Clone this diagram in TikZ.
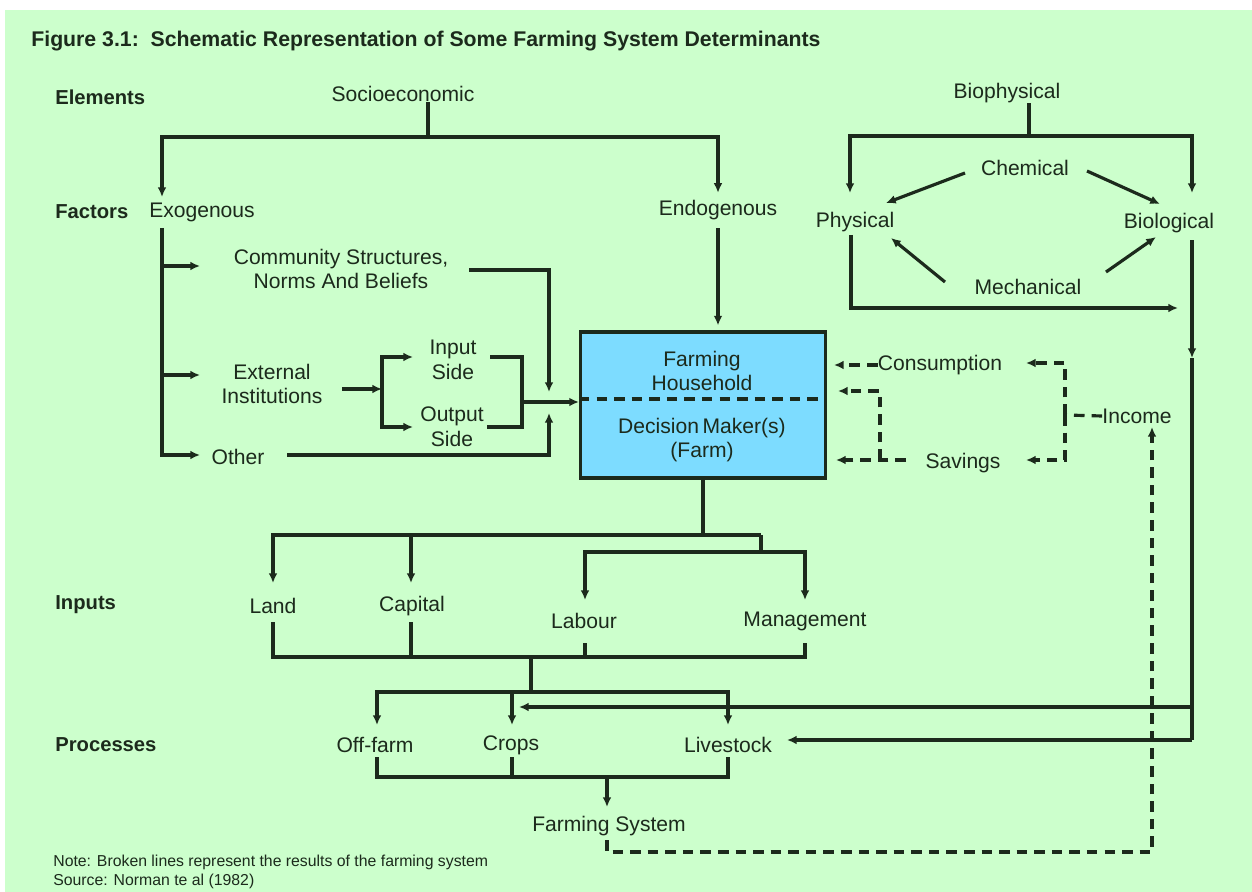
\documentclass[tikz,border=0pt]{standalone}
\usepackage{fontspec}
\setmainfont{Liberation Sans}
\usepackage{tikz}
\usetikzlibrary{arrows.meta}
\definecolor{bggreen}{RGB}{204,255,204}
\definecolor{hhblue}{RGB}{125,220,255}
\definecolor{ink}{RGB}{28,42,28}
\tikzset{
	lbl/.style={font=\fontsize{12}{14}\selectfont, text=ink, align=center, inner sep=0pt},
	rowlbl/.style={font=\bfseries\fontsize{11.5}{14}\selectfont, text=ink, anchor=west, inner sep=0pt},
	ln/.style={draw=ink, line width=1.8pt},
	arr/.style={ln, -{Latex[length=5.5pt,width=5pt]}},
	dsh/.style={ln, dash pattern=on 6pt off 4pt},
	darr/.style={dsh, -{Latex[length=5.5pt,width=5pt]}},
	hhbox/.style={draw=ink, line width=1.8pt, fill=hhblue, minimum width=4.9cm, minimum height=2.92cm, inner sep=0pt}
}

\begin{document}
\begin{tikzpicture}[x=0.02cm, y=-0.02cm]
			%%%%% START %%%%%
			
			\useasboundingbox (0,0) rectangle (1252,892);
			\fill[white] (0,0) rectangle (1252,892);
			\fill[bggreen] (5,10) rectangle (1252,892);
			
			\node[anchor=west, font=\bfseries\fontsize{12.1}{14}\selectfont, text=ink, inner sep=0pt] (title) at (31,41) {Figure 3.1:\ \ Schematic Representation of Some Farming System Determinants};
			
			\node[rowlbl] (elements) at (55,97) {Elements};
			\node[rowlbl] (factors) at (55,212) {Factors};
			\node[rowlbl] (inputs) at (55,605) {Inputs};
			\node[rowlbl] (processes) at (55,745) {Processes};
			
			\node[lbl] (socio) at (403,94) {Socioeconomic};
			\node[lbl] (bio) at (1007,93) {Biophysical};
			\node[lbl] (exo) at (202,212) {Exogenous};
			\node[lbl] (endo) at (718,210) {Endogenous};
			
			\node[lbl] (chem) at (1025,168) {Chemical};
			\node[lbl] (phys) at (855,222) {Physical};
			\node[lbl] (biol) at (1169,223) {Biological};
			\node[lbl] (mech) at (1028,287) {Mechanical};
			
			\node[lbl] (comm) at (341,269) {Community Structures,\\Norms And Beliefs};
			\node[lbl] (ext) at (272,384) {External\\Institutions};
			\node[lbl] (inp) at (453,360) {Input\\Side};
			\node[lbl] (outp) at (452,427) {Output\\Side};
			\node[lbl] (other) at (238,457) {Other};
			
			\node[hhbox] (hh) at (703,405) {};
			\node[lbl] (hhtop) at (702,371) {Farming\\Household};
			\node[lbl] (hhbot) at (702,440) {Decision\,Maker(s)\\(Farm)};
			
			\node[lbl] (cons) at (940,365) {Consumption};
			\node[lbl] (sav) at (963,463) {Savings};
			\node[lbl] (inc) at (1137,416) {Income};
			
			\node[lbl] (land) at (273,606) {Land};
			\node[lbl] (cap) at (412,606) {Capital};
			\node[lbl] (lab) at (584,621) {Labour};
			\node[lbl] (man) at (805,621) {Management};
			
			\node[lbl] (off) at (375,745) {Off-farm};
			\node[lbl] (crops) at (511,745) {Crops};
			\node[lbl] (live) at (728,745) {Livestock};
			
			\node[lbl] (fs) at (609,826) {Farming System};
			
			\node[anchor=west, font=\fontsize{9}{11}\selectfont, text=ink, inner sep=0pt] (note) at (53,862) {Note: Broken lines represent the results of the farming system};
			\node[anchor=west, font=\fontsize{9}{11}\selectfont, text=ink, inner sep=0pt] (source) at (53,881) {Source: Norman te al (1982)};
			
			% socioeconomic branch
			\coordinate (sj) at (428,137);
			\coordinate (exoin) at (162,197);
			\draw[ln] (sj|-socio.south) -- (sj);
			\draw[arr] (sj) -| (exoin);
			\draw[arr] (sj) -| ([yshift=0.14cm]endo.north);
			\draw[arr] ([yshift=-0.16cm]endo.south) -- ([yshift=0.1cm]endo|-hh.north);
			
			% exogenous factors
			\coordinate (exo0) at (162,228);
			\coordinate (commin) at (200,266);
			\coordinate (extin) at (200,375);
			\coordinate (othin) at (200,455);
			\draw[arr] (exo0) |- (othin);
			\draw[arr] (exo0|-commin) -- (commin);
			\draw[arr] (exo0|-extin) -- (extin);
			
			\coordinate (extout) at (342,389);
			\coordinate (bl) at (382,389);
			\coordinate (inpin) at (413,357);
			\coordinate (outin) at (413,427);
			\draw[arr] (extout) -- (bl);
			\draw[arr] (bl) |- (inpin);
			\draw[arr] (bl) |- (outin);
			
			\coordinate (inpout) at (490,357);
			\coordinate (outout) at (487,427);
			\coordinate (br) at (522,402);
			\draw[ln] (inpout) -| (br);
			\draw[ln] (outout) -| (br);
			\draw[arr] (br) -- (br-|hh.west);
			
			\coordinate (commout) at (469,270);
			\coordinate (hhin1) at (549,392);
			\coordinate (othout) at (287,455);
			\coordinate (hhin2) at (549,413);
			\draw[arr] (commout) -| (hhin1);
			\draw[arr] (othout) -| (hhin2);
			
			\coordinate (mid) at (700,399);
			\draw[dsh] (hh.west|-mid) -- (hh.east|-mid);
			
			% biophysical branch
			\coordinate (bj) at (1029,136);
			\coordinate (physin) at (850,193);
			\coordinate (biolin) at (1192,193);
			\draw[ln] (bj|-bio.south) -- (bj);
			\draw[arr] (bj) -| (physin);
			\draw[arr] (bj) -| (biolin);
			
			\coordinate (c1s) at (965,173);
			\coordinate (c1e) at (886,203);
			\coordinate (c2s) at (1087,171);
			\coordinate (c2e) at (1160,204);
			\coordinate (m1s) at (945,282);
			\coordinate (m1e) at (891,238);
			\coordinate (m2s) at (1106,272);
			\coordinate (m2e) at (1156,237);
			\draw[arr] (c1s) -- (c1e);
			\draw[arr] (c2s) -- (c2e);
			\draw[arr] (m1s) -- (m1e);
			\draw[arr] (m2s) -- (m2e);
			
			\coordinate (p0) at (851,235);
			\coordinate (p1) at (1178,308);
			\draw[arr] (p0) |- (p1);
			
			\coordinate (r0) at (1192,240);
			\coordinate (rm) at (1192,358);
			\coordinate (r1) at (1192,707);
			\coordinate (r2) at (1192,740);
			\coordinate (cropin) at (519,707);
			\coordinate (livin) at (787,740);
			\draw[arr] (r0) -- (rm);
			\draw[ln] (rm) -- (r2);
			\draw[arr] (r1) -- (cropin);
			\draw[arr] (r2) -- (livin);
			
			% results of the farming system
			\coordinate (consin) at (834,365);
			\coordinate (hhup) at (838,391);
			\coordinate (savout) at (906,460);
			\coordinate (savin) at (836,460);
			\coordinate (sj1) at (880,391);
			\coordinate (sj2) at (880,460);
			\draw[darr] (cons.west) -- (consin);
			\draw[darr] (savout) -- (savin);
			\draw[darr] (sj2) -- (sj1) -- (hhup);
			
			\coordinate (ij) at (1065,415);
			\coordinate (ic) at (1065,363);
			\coordinate (is) at (1065,460);
			\coordinate (consr) at (1026,363);
			\coordinate (savr) at (1026,460);
			\draw[dsh] (inc.west) -- (ij);
			\draw[darr] (ij) -- (ic) -- (consr);
			\draw[darr] (ij) -- (is) -- (savr);
			
			\coordinate (fs0) at (607,840);
			\coordinate (fs1) at (1152,852);
			\coordinate (incin) at (1152,427);
			\draw[darr] (fs0) |- (fs1) -- (incin);
			
			% inputs
			\coordinate (t0) at (703,535);
			\coordinate (tl) at (273,535);
			\coordinate (tr) at (761,535);
			\coordinate (landin) at (273,583);
			\coordinate (capin) at (411,583);
			\draw[ln] (hh.south) -- (t0);
			\draw[arr] (tr) -- (tl) -- (landin);
			\draw[arr] (capin|-tl) -- (capin);
			
			\coordinate (t2) at (761,552);
			\coordinate (labin) at (585,600);
			\coordinate (manin) at (805,600);
			\draw[ln] (tr) -- (t2);
			\draw[arr] (t2) -| (labin);
			\draw[arr] (t2) -| (manin);
			
			\coordinate (lo) at (273,622);
			\coordinate (co) at (411,622);
			\coordinate (lbo) at (585,643);
			\coordinate (mo) at (805,643);
			\coordinate (b0) at (531,657);
			\draw[ln] (lo) |- (mo|-b0) -- (mo);
			\draw[ln] (co) -- (co|-b0);
			\draw[ln] (lbo) -- (lbo|-b0);
			
			% processes
			\coordinate (q0) at (531,692);
			\coordinate (offin) at (377,725);
			\coordinate (cropsin) at (512,725);
			\coordinate (livin2) at (728,725);
			\draw[ln] (b0) -- (q0);
			\draw[arr] (q0) -| (offin);
			\draw[arr] (q0) -| (livin2);
			\draw[arr] (cropsin|-q0) -- (cropsin);
			
			\coordinate (oo) at (377,757);
			\coordinate (cro) at (512,757);
			\coordinate (lio) at (728,757);
			\coordinate (fsj) at (607,777);
			\coordinate (fsin) at (607,807);
			\draw[ln] (oo) |- (lio|-fsj) -- (lio);
			\draw[ln] (cro) -- (cro|-fsj);
			\draw[arr] (fsj) -- (fsin);
			
			%%%%% END %%%%%
\end{tikzpicture}
\end{document}
